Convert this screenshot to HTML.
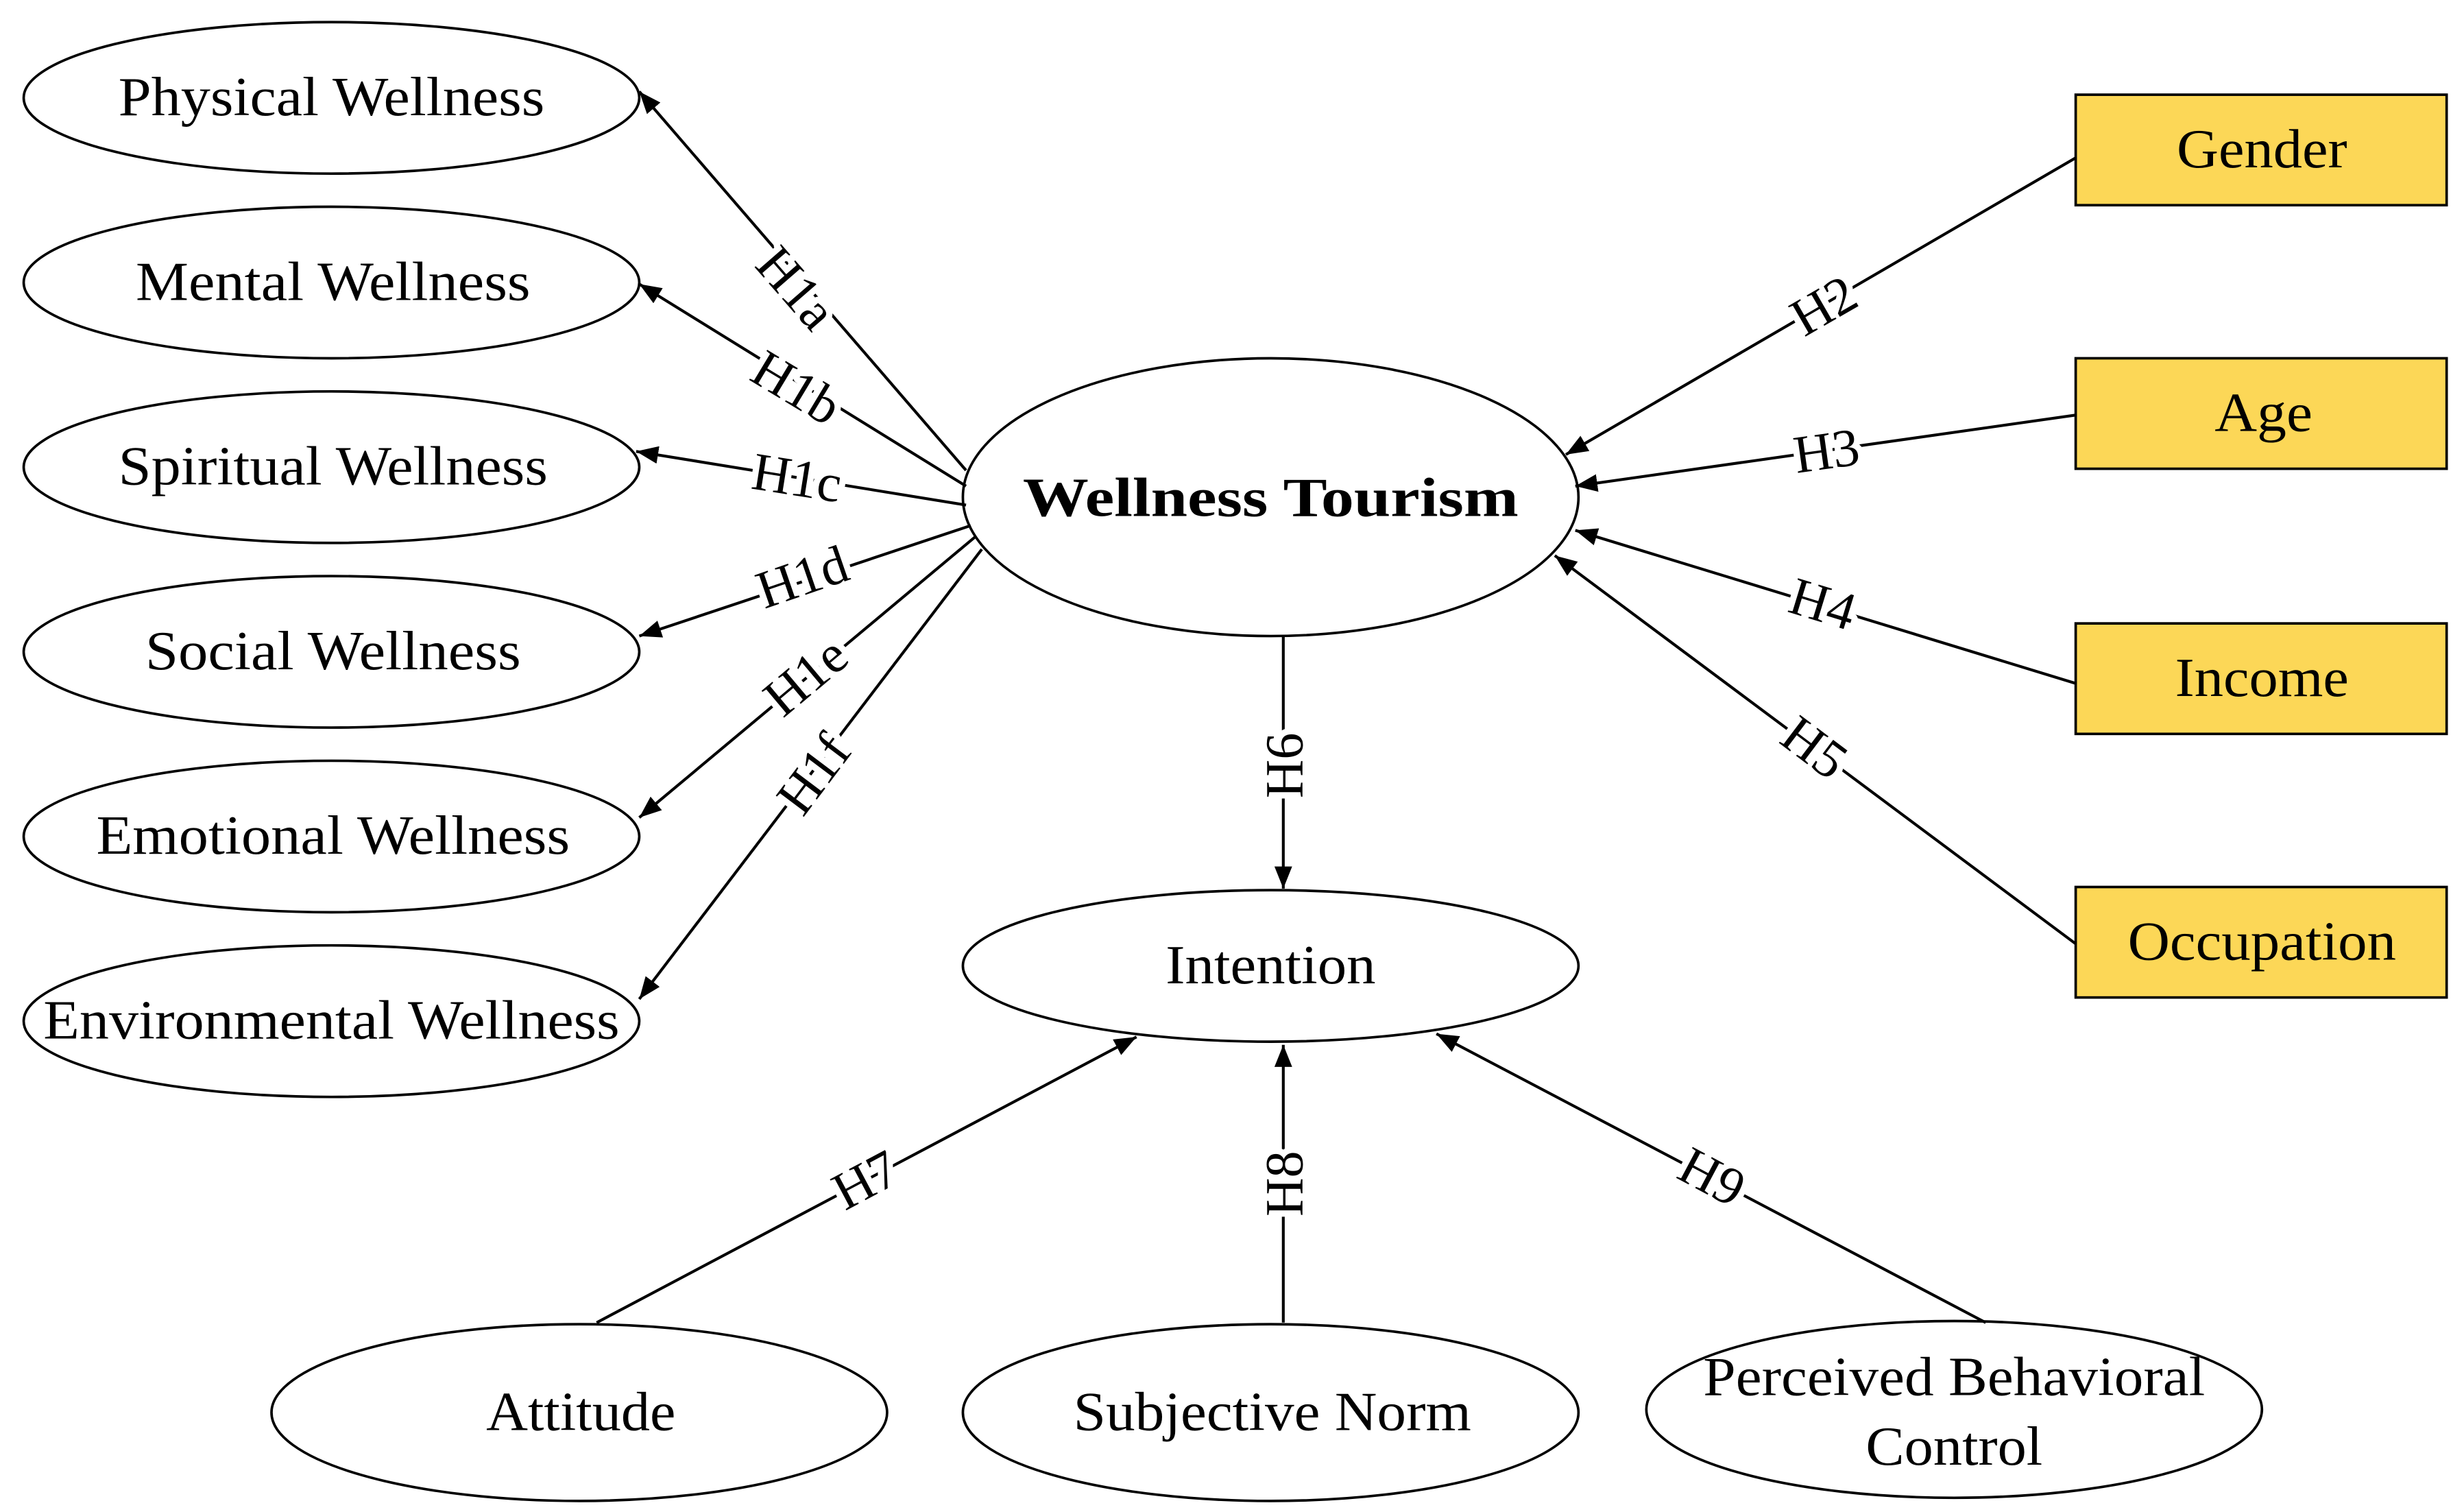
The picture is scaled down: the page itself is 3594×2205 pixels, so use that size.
<!DOCTYPE html>
<html><head><meta charset="utf-8"><style>
html,body{margin:0;padding:0;background:#fff}
svg{display:block}
text{font-family:"Liberation Serif",serif;font-size:35px;fill:#000}
.l{font-size:34px;paint-order:stroke;stroke:#fff;stroke-width:8px;stroke-linejoin:round}
</style></head><body>
<svg width="3594" height="2205" viewBox="0 0 1561 958" preserveAspectRatio="none" xmlns="http://www.w3.org/2000/svg">
<defs><marker id="a" viewBox="0 0 10 10" refX="10" refY="5" markerWidth="14" markerHeight="14" markerUnits="userSpaceOnUse" orient="auto"><path d="M0,1 L10,5 L0,9 z" fill="#000"/></marker></defs>
<g fill="#fff" stroke="#000" stroke-width="1.6">
<ellipse cx="210" cy="62" rx="195" ry="48"/>
<ellipse cx="210" cy="179" rx="195" ry="48"/>
<ellipse cx="210" cy="296" rx="195" ry="48"/>
<ellipse cx="210" cy="413" rx="195" ry="48"/>
<ellipse cx="210" cy="530" rx="195" ry="48"/>
<ellipse cx="210" cy="647" rx="195" ry="48"/>
<ellipse cx="805" cy="315" rx="195" ry="88"/>
<ellipse cx="805" cy="612" rx="195" ry="48"/>
<ellipse cx="367" cy="895" rx="195" ry="56"/>
<ellipse cx="805" cy="895" rx="195" ry="56"/>
<ellipse cx="1238" cy="893" rx="195" ry="56"/>
</g>
<g fill="#fcd757" stroke="#000" stroke-width="1.6">
<rect x="1315" y="60" width="235" height="70"/>
<rect x="1315" y="227" width="235" height="70"/>
<rect x="1315" y="395" width="235" height="70"/>
<rect x="1315" y="562" width="235" height="70"/>
</g>
<g stroke="#000" stroke-width="1.8" marker-end="url(#a)">
<line x1="612" y1="298" x2="405" y2="58"/>
<line x1="612" y1="308" x2="405" y2="180"/>
<line x1="612" y1="320" x2="403" y2="286"/>
<line x1="615" y1="333" x2="405" y2="403"/>
<line x1="618" y1="340" x2="405" y2="518"/>
<line x1="622" y1="348" x2="405" y2="633"/>
<line x1="1315" y1="100" x2="992" y2="288"/>
<line x1="1315" y1="263" x2="998" y2="308"/>
<line x1="1315" y1="433" x2="998" y2="336"/>
<line x1="1315" y1="598" x2="985" y2="352"/>
<line x1="813" y1="403" x2="813" y2="563"/>
<line x1="378" y1="838" x2="720" y2="657"/>
<line x1="813" y1="838" x2="813" y2="662"/>
<line x1="1258" y1="838" x2="910" y2="655"/>
</g>
<g text-anchor="middle" lengthAdjust="spacingAndGlyphs">
<text x="210" y="73" textLength="270" lengthAdjust="spacingAndGlyphs">Physical Wellness</text>
<text x="211" y="190" textLength="250" lengthAdjust="spacingAndGlyphs">Mental Wellness</text>
<text x="211" y="307" textLength="272" lengthAdjust="spacingAndGlyphs">Spiritual Wellness</text>
<text x="211" y="424" textLength="238" lengthAdjust="spacingAndGlyphs">Social Wellness</text>
<text x="211" y="541" textLength="300" lengthAdjust="spacingAndGlyphs">Emotional Wellness</text>
<text x="210" y="658" textLength="365" lengthAdjust="spacingAndGlyphs">Environmental Wellness</text>
<text x="805" y="327" font-weight="bold" font-size="38" textLength="314" lengthAdjust="spacingAndGlyphs">Wellness Tourism</text>
<text x="805" y="623" textLength="133" lengthAdjust="spacingAndGlyphs">Intention</text>
<text x="368" y="906" textLength="120" lengthAdjust="spacingAndGlyphs">Attitude</text>
<text x="806" y="906" textLength="252" lengthAdjust="spacingAndGlyphs">Subjective Norm</text>
<text x="1238" y="884" textLength="318" lengthAdjust="spacingAndGlyphs">Perceived Behavioral</text>
<text x="1238" y="928" textLength="112" lengthAdjust="spacingAndGlyphs">Control</text>
<text x="1433" y="106" textLength="108" lengthAdjust="spacingAndGlyphs">Gender</text>
<text x="1434" y="273" textLength="62" lengthAdjust="spacingAndGlyphs">Age</text>
<text x="1433" y="441" textLength="110" lengthAdjust="spacingAndGlyphs">Income</text>
<text x="1433" y="608" textLength="170" lengthAdjust="spacingAndGlyphs">Occupation</text>
<text class="l" transform="translate(505,182) rotate(49)" y="12">H1a</text>
<text class="l" transform="translate(505,245) rotate(31)" y="12">H1b</text>
<text class="l" transform="translate(505,302) rotate(9)" y="12">H1c</text>
<text class="l" transform="translate(508,365) rotate(-19)" y="12">H1d</text>
<text class="l" transform="translate(510,428) rotate(-40)" y="12">H1e</text>
<text class="l" transform="translate(515,490) rotate(-53)" y="12">H1f</text>
<text class="l" transform="translate(1155,193) rotate(-30)" y="12">H2</text>
<text class="l" transform="translate(1157,285) rotate(-8)" y="12">H3</text>
<text class="l" transform="translate(1155,382) rotate(17)" y="12">H4</text>
<text class="l" transform="translate(1150,473) rotate(37)" y="12">H5</text>
<text class="l" transform="translate(813,485) rotate(-90)" y="12">H6</text>
<text class="l" transform="translate(548,747) rotate(-28)" y="12">H7</text>
<text class="l" transform="translate(813,750) rotate(-90)" y="12">H8</text>
<text class="l" transform="translate(1085,745) rotate(28)" y="12">H9</text>
</g>
</svg>
</body></html>
